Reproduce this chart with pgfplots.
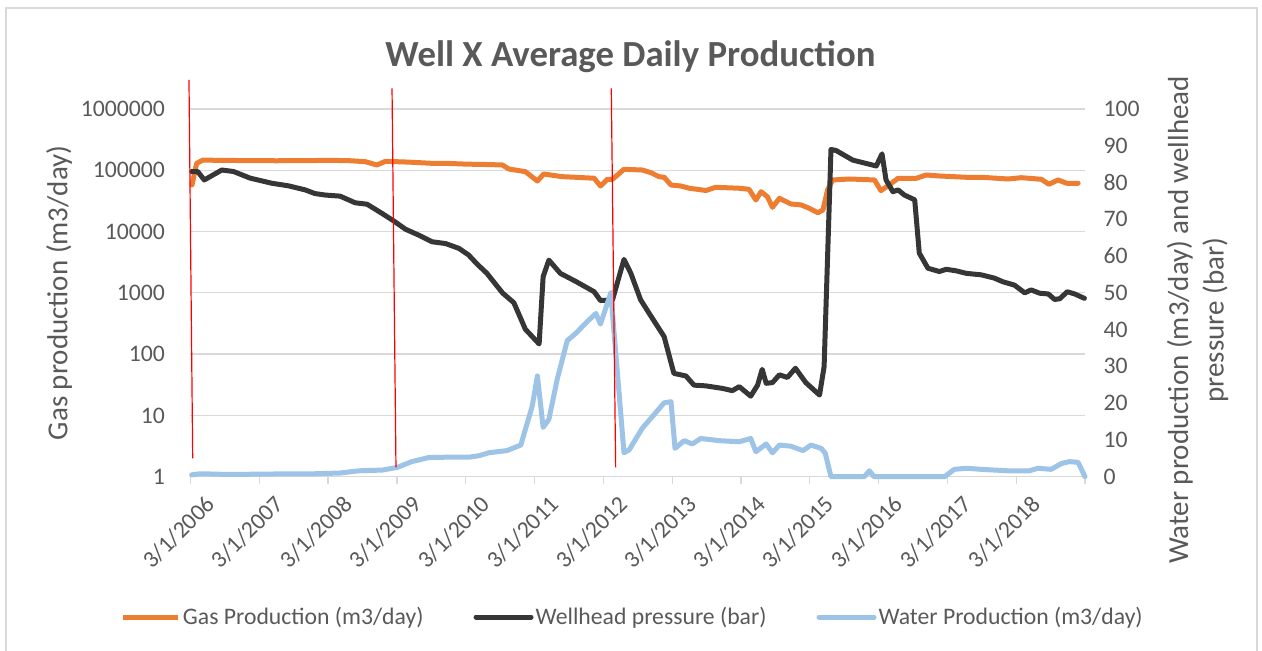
\documentclass[border=0pt]{standalone}
\usepackage{fontspec}
\setmainfont{Carlito}
\usepackage{pgfplots}
\pgfplotsset{compat=1.18}
\definecolor{gasc}{HTML}{ED7D31}
\definecolor{presc}{HTML}{363636}
\definecolor{watc}{HTML}{9DC3E6}
\definecolor{gridc}{HTML}{D9D9D9}
\definecolor{txtc}{HTML}{595959}
\newcommand{\tickfont}{\fontsize{23.7}{28}\selectfont}
\newcommand{\labfont}{\fontsize{29}{35.5}\selectfont}
\newcommand{\titfont}{\fontsize{36.8}{44}\selectfont\bfseries}

\pgfplotstableread{
m v
0.26 57500
1.08 130000
2.18 147000
5 145000
10 144000
15 143000
20 144000
25 145000
28 143000
30.5 138000
32.5 122000
34 140000
38 136000
42 130000
44.5 130000
48 126000
52 124000
54.4 122000
55.5 105000
58.4 95000
60.5 66800
61.6 87000
64.8 78700
67.2 76900
70.4 74100
71.5 55400
72.7 71300
73.6 71300
75.6 103800
78.8 101000
80.3 91400
81.7 78700
82.6 76900
83.8 57500
85.5 55400
87 50900
89.9 46800
91.6 52800
95.7 50900
97.4 49000
98.6 32700
99.5 44700
100.6 37100
101.5 24900
102.7 34900
104.7 28200
106.5 27200
107.9 24000
109.4 20300
110.3 22500
111.1 47700
112 69500
114.9 72100
119.3 69500
120.4 46500
121.6 55400
123.4 74100
126.6 74100
128.3 83800
130.6 80700
135.3 76900
137.9 76900
142.6 72100
144.9 75700
148.4 71300
149.7 59100
151.3 69500
152.8 61400
154.8 61400
}\gastable

\pgfplotstableread{
m p
0.2 83.0
1.26 83.0
2.4 80.7
5.45 83.4
7.5 83.0
10.4 81.2
14.2 79.8
17.1 79.1
20 78.0
21.7 77.0
23.5 76.6
26.1 76.3
28.7 74.5
30.8 74.1
33.4 71.6
35.4 69.6
37.5 67.3
39.8 65.7
42.1 63.9
44.5 63.4
46.8 62.1
48.5 60.3
50 57.8
51.7 55.3
54.4 50.0
56.4 47.3
58.4 40.1
60.8 36.1
61.5 54.4
62.5 58.9
64.5 55.3
67.2 53.1
70.4 50.3
71.5 47.9
73.6 48.1
75.6 59.1
76.8 55.3
78.5 48.1
80 44.4
82.6 38.1
84.3 28.1
86.4 27.4
87.8 24.9
89.9 24.7
92.8 24.0
94.5 23.4
95.7 24.5
97.7 21.9
98.9 24.9
99.7 29.2
100.4 25.4
101.5 25.6
102.7 27.7
104.1 27.0
105.5 29.5
107.3 25.6
109.7 22.2
110.5 29.9
111.7 89.0
112.6 88.7
115.5 86.1
119.6 84.5
120.6 87.8
121.3 80.7
122.5 77.5
123.4 78.0
124.5 76.6
126.3 75.3
127.1 60.8
128.6 56.7
130.6 55.8
131.8 56.4
133.5 56.0
135.3 55.3
137.9 54.9
140.2 54.0
141.7 53.0
143.7 52.1
145.5 50.0
146.6 50.8
148.1 49.9
149.6 49.7
150.7 48.2
151.6 48.4
152.9 50.3
154.2 49.7
155.9 48.5
}\prestable

\pgfplotstableread{
m w
0.2 0.5
1.7 0.8
6.9 0.6
12.1 0.7
19.1 0.8
21.7 0.8
26.1 1.0
29.3 1.6
33.4 1.8
36 2.5
38.6 4.1
41.5 5.2
44.5 5.3
48.5 5.3
50.3 5.7
52 6.5
55.2 7.1
57.6 8.6
59.6 19.2
60.5 27.4
61.5 13.4
62.5 15.6
64 26.8
65.7 37.0
67.2 39.0
69.2 42.2
70.7 44.4
71.5 41.5
73.3 50.0
75.6 6.5
76.5 7.3
78.8 13.2
80.8 16.8
82.6 20.1
83.8 20.4
84.5 7.7
86.1 9.8
87.5 8.9
89 10.4
92.2 9.8
95.7 9.5
97.7 10.4
98.6 6.8
100.4 8.9
101.5 6.5
102.7 8.6
104.7 8.3
106.8 7.1
108.2 8.6
110 7.7
110.7 6.4
111.7 0
117.5 0
118.4 1.6
119.2 0
131.5 0
133.2 2.0
135.3 2.3
137.9 2.0
142.6 1.6
146.3 1.6
147.8 2.3
150.1 2.0
151.9 3.6
153.3 4.1
154.8 3.9
156 0
}\wattable

\begin{document}
\begin{tikzpicture}[x=1pt,y=1pt]
\path[use as bounding box] (0pt,0pt) rectangle (1262pt,651pt);
\draw[gridc, line width=1.3pt] (6pt,-5pt) -- (6pt,643pt) -- (1257pt,643pt) -- (1257pt,-5pt);
\node[text=txtc, anchor=base, font=\titfont] at (630.5pt,584pt) {Well X Average Daily Production};

\pgfplotsset{
  base/.style={
    at={(190.5pt,174.3pt)}, anchor=south west, scale only axis,
    width=894.5pt, height=367.7pt,
    xmin=0, xmax=156, clip=false,
    tick label style={font=\tickfont, text=txtc},
    label style={font=\labfont, text=txtc},
  },
  ser/.style={line width=5pt, line join=round, line cap=round},
}

\begin{axis}[base,
  ymode=log, ymin=1, ymax=1000000,
  ytick={1,10,100,1000,10000,100000,1000000},
  yticklabels={1,10,100,1000,10000,100000,1000000},
  yminorticks=false,
  ymajorgrids, grid style={gridc, line width=1.3pt},
  axis x line*=bottom, axis y line*=left,
  y axis line style={draw=none},
  x axis line style={gridc, line width=1.3pt, -},
  xtick={0,12,...,156},
  xticklabels={3/1/2006,3/1/2007,3/1/2008,3/1/2009,3/1/2010,3/1/2011,3/1/2012,3/1/2013,3/1/2014,3/1/2015,3/1/2016,3/1/2017,3/1/2018,{}},
  xtick style={gridc, line width=1.3pt},
  tick align=outside, major tick length=7pt,
  ytick style={draw=none},
  yticklabel style={xshift=-15pt},
  xticklabel style={rotate=45, anchor=east, xshift=6pt, yshift=-26pt},
  ylabel={Gas production (m3/day)},
  ylabel style={at={(rel axis cs:-0.147,0.5)}, anchor=center},
]
\addplot[ser, gasc] table[x=m, y=v] {\gastable};
\end{axis}

\begin{axis}[base,
  ymin=0, ymax=100, ytick={0,10,20,30,40,50,60,70,80,90,100},
  yticklabels={0,10,20,30,40,50,60,70,80,90,100},
  axis x line=none, axis y line*=right,
  y axis line style={draw=none}, ytick style={draw=none},
  yticklabel style={xshift=15pt},
  ylabel={Water production (m3/day) and wellhead\\pressure (bar)},
  ylabel style={align=center, at={(rel axis cs:1.1258,0.4262)}, anchor=center},
  legend columns=3,
  legend image code/.code={\draw[#1] (0pt,0pt) -- (55pt,0pt);},
  legend style={at={(rel axis cs:0.4945,-0.3816)}, anchor=center, draw=none, fill=none,
    font=\tickfont, text=txtc,
    /tikz/every even column/.append style={column sep=48pt}},
]
\addlegendimage{ser, gasc, line cap=butt}
\addlegendentry{Gas Production (m3/day)}
\addplot[ser, presc] table[x=m, y=p] {\prestable};
\addlegendentry{Wellhead pressure (bar)}
\addplot[ser, watc] table[x=m, y=w] {\wattable};
\addlegendentry{Water Production (m3/day)}
\draw[red, line width=1.2pt] (rel axis cs:-0.0017,1.0789) -- (rel axis cs:0.00246,0.05004);
\draw[red, line width=1.2pt] (rel axis cs:0.2253,1.0563) -- (rel axis cs:0.2297,0.02556);
\draw[red, line width=1.2pt] (rel axis cs:0.4704,1.0563) -- (rel axis cs:0.4753,0.02556);
\end{axis}
\end{tikzpicture}
\end{document}
